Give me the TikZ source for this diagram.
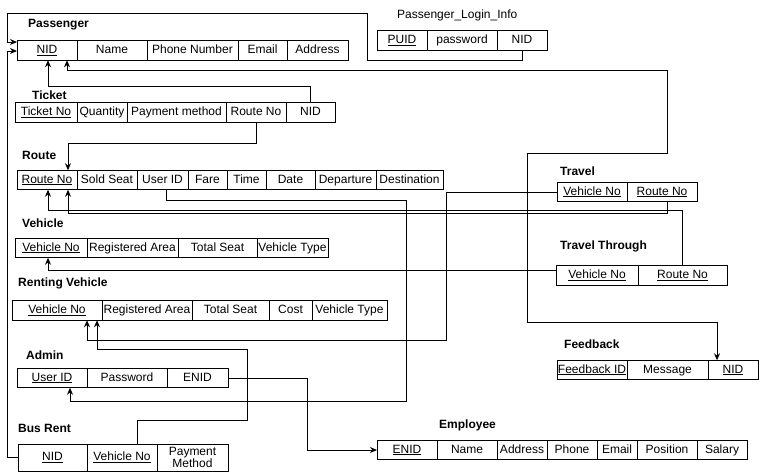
\documentclass[tikz,border=0pt]{standalone}
\usepackage{fontspec}
\setmainfont{Liberation Sans}
\usetikzlibrary{arrows.meta,positioning}
\tikzset{
  cell/.style={draw, line width=1pt, inner sep=0pt, outer sep=0pt, minimum height=19.5pt,
    text height=8.6pt, text depth=2.6pt, font=\fontsize{12}{12}\selectfont},
  first/.style={cell, anchor=west},
  title/.style={anchor=west, inner sep=0pt, font=\fontsize{12}{14}\selectfont\bfseries},
  link/.style={line width=1pt},
  fk/.style={link, -{Stealth[length=7pt,width=6pt]}},
  fkboth/.style={link, {Stealth[length=7pt,width=6pt]}-{Stealth[length=7pt,width=6pt]}},
}

\begin{document}
\begin{tikzpicture}[x=1pt, y=-1pt]
      \useasboundingbox (0,0) rectangle (759,472);

      % Passenger
      \node[title] (tPassenger) at (28,25) {Passenger};
      \node[first, minimum width=60] (pNID) at (17,50.5) {\underline{NID}};
      \node[cell, minimum width=70, right=0pt of pNID] (pName) {Name};
      \node[cell, minimum width=91, right=0pt of pName] (pPhone) {Phone Number};
      \node[cell, minimum width=49, right=0pt of pPhone] (pEmail) {Email};
      \node[cell, minimum width=61, right=0pt of pEmail] (pAddress) {Address};

      % Passenger_Login_Info
      \node[title, font=\fontsize{12}{14}\selectfont] (tLogin) at (397,15) {Passenger\_Login\_Info};
      \node[first, minimum width=50] (lPUID) at (377,40.5) {\underline{PUID}};
      \node[cell, minimum width=70, right=0pt of lPUID] (lPass) {password};
      \node[cell, minimum width=50, right=0pt of lPass] (lNID) {NID};

      % Ticket
      \node[title] (tTicket) at (32,95) {Ticket};
      \node[first, minimum width=62] (tNo) at (15,112.5) {\underline{Ticket No}};
      \node[cell, minimum width=50, right=0pt of tNo] (tQty) {Quantity};
      \node[cell, minimum width=99, right=0pt of tQty] (tPay) {Payment method};
      \node[cell, minimum width=60, right=0pt of tPay] (tRoute) {Route No};
      \node[cell, minimum width=49, right=0pt of tRoute] (tNID) {NID};

      % Route
      \node[title] (tRouteT) at (22,155) {Route};
      \node[first, minimum width=60] (rRoute) at (17,180) {\underline{Route No}};
      \node[cell, minimum width=60, right=0pt of rRoute] (rSold) {Sold Seat};
      \node[cell, minimum width=51, right=0pt of rSold] (rUser) {User ID};
      \node[cell, minimum width=39, right=0pt of rUser] (rFare) {Fare};
      \node[cell, minimum width=39, right=0pt of rFare] (rTime) {Time};
      \node[cell, minimum width=49, right=0pt of rTime] (rDate) {Date};
      \node[cell, minimum width=61, right=0pt of rDate] (rDep) {Departure};
      \node[cell, minimum width=67, right=0pt of rDep] (rDest) {Destination};

      % Vehicle
      \node[title] (tVehicle) at (22,223) {Vehicle};
      \node[first, minimum width=72] (vVeh) at (15,248) {\underline{Vehicle No}};
      \node[cell, minimum width=91, right=0pt of vVeh] (vArea) {Registered Area};
      \node[cell, minimum width=79, right=0pt of vArea] (vSeat) {Total Seat};
      \node[cell, minimum width=71, right=0pt of vSeat] (vType) {Vehicle Type};

      % Travel
      \node[title] (tTravel) at (560,171) {Travel};
      \node[first, minimum width=70] (tvVeh) at (557,192) {\underline{Vehicle No}};
      \node[cell, minimum width=70, right=0pt of tvVeh] (tvRoute) {\underline{Route No}};

      % Travel Through
      \node[title] (tThrough) at (560,246) {Travel Through};
      \node[first, minimum width=82] (ttVeh) at (556,275.5) {\underline{Vehicle No}};
      \node[cell, minimum width=89, right=0pt of ttVeh] (ttRoute) {\underline{Route No}};

      % Renting Vehicle
      \node[title] (tRenting) at (18,283) {Renting Vehicle};
      \node[first, minimum width=90] (rvVeh) at (12,310.5) {\underline{Vehicle No}};
      \node[cell, minimum width=90, right=0pt of rvVeh] (rvArea) {Registered Area};
      \node[cell, minimum width=77, right=0pt of rvArea] (rvSeat) {Total Seat};
      \node[cell, minimum width=43, right=0pt of rvSeat] (rvCost) {Cost};
      \node[cell, minimum width=75, right=0pt of rvCost] (rvType) {Vehicle Type};

      % Admin
      \node[title] (tAdmin) at (26,355) {Admin};
      \node[first, minimum width=70] (aUser) at (17,378) {\underline{User ID}};
      \node[cell, minimum width=80, right=0pt of aUser] (aPass) {Password};
      \node[cell, minimum width=61, right=0pt of aPass] (aENID) {ENID};

      % Bus Rent
      \node[title] (tBusRent) at (18,428) {Bus Rent};
      \node[first, minimum width=69, minimum height=27] (bNID) at (18,457.5) {\underline{NID}};
      \node[cell, minimum width=70, minimum height=27, right=0pt of bNID] (brVeh) {\underline{Vehicle No}};
      \node[cell, minimum width=71, minimum height=27, text height=, text depth=, align=center, right=0pt of brVeh] (brPay) {Payment\\Method};

      % Feedback
      \node[title] (tFeedback) at (564,344) {Feedback};
      \node[first, minimum width=70] (fID) at (557,370) {\underline{Feedback ID}};
      \node[cell, minimum width=81, right=0pt of fID] (fMsg) {Message};
      \node[cell, minimum width=50, right=0pt of fMsg] (fNID) {\underline{NID}};

      % Employee
      \node[title] (tEmployee) at (439,425) {Employee};
      \node[first, minimum width=60] (eENID) at (377,450) {\underline{ENID}};
      \node[cell, minimum width=60, right=0pt of eENID] (eName) {Name};
      \node[cell, minimum width=50, right=0pt of eName] (eAddress) {Address};
      \node[cell, minimum width=50, right=0pt of eAddress] (ePhone) {Phone};
      \node[cell, minimum width=40, right=0pt of ePhone] (eEmail) {Email};
      \node[cell, minimum width=60, right=0pt of eEmail] (ePosition) {Position};
      \node[cell, minimum width=50, right=0pt of ePosition] (eSalary) {Salary};

      % foreign keys
      \draw[fk] (lNID.south) -- (522,60) -- (367,60) -- (367,13) -- (7,13) -- (7,42) -- (7,42 -| pNID.west);
      \draw[fk] (bNID.west) -| (7,51) -- (7,51 -| pNID.west);
      \draw[fk] (tNID.north) |- (48,86) -- (48,0 |- pNID.south);
      \draw[fkboth] (67,0 |- pNID.south) -- (67,70) -- (667,70) -- (667,153) -- (527,153) -- (527,322) -- (717,322) -- (717,0 |- fNID.north);
      \draw[fk] (tRoute.south) |- (68,143) -- (68,0 |- rRoute.north);
      \draw[fk] (166,0 |- rUser.south) -- (166,200) -- (406,200) -- (406,401) -- (70,401) -- (70,0 |- aUser.south);
      \draw[fk] (ttRoute.north) |- (48,210) -- (48,0 |- rRoute.south);
      \draw[fk] (667,0 |- tvRoute.south) -- (667,213) -- (68,213) -- (68,0 |- rRoute.south);
      \draw[fk] (0,270 -| ttVeh.west) -- (48,270) -- (48,0 |- vVeh.south);
      \draw[fk] (tvVeh.west) -| (446,340) -- (87,340) -- (87,0 |- rvVeh.south);
      \draw[fk] (137,0 |- brVeh.north) -- (137,420) -- (247,420) -- (247,349) -- (97,349) -- (97,0 |- rvVeh.south);
      \draw[fk] (aENID.east) -| (307,450) -- (eENID.west);
\end{tikzpicture}
\end{document}
